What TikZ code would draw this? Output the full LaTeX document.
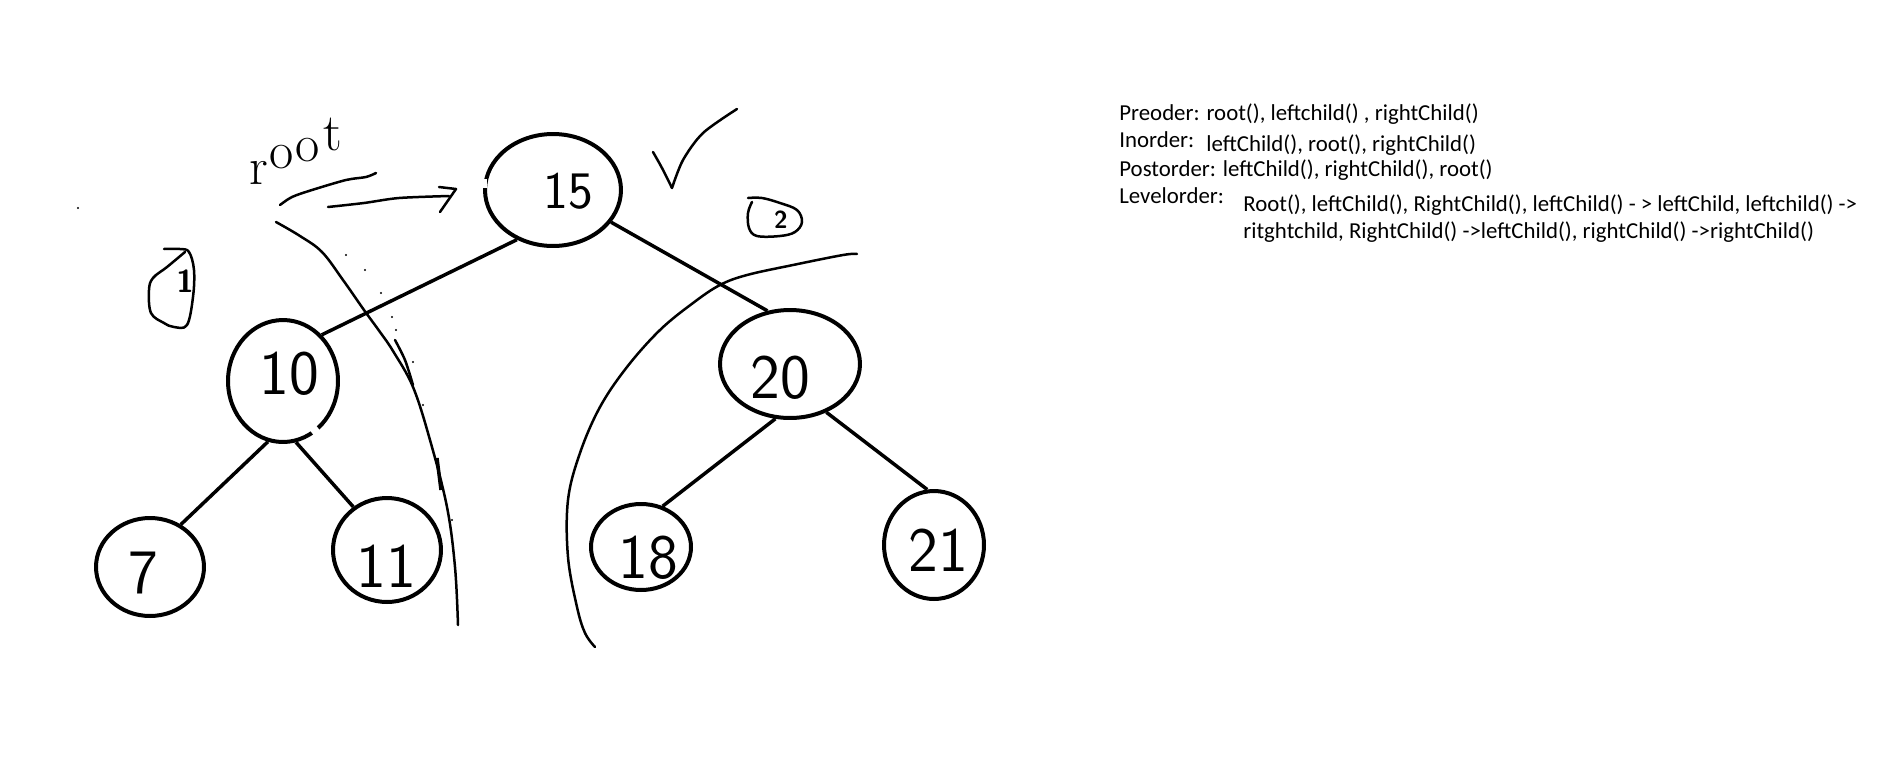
\documentclass[tikz,border=0pt]{standalone}
\usepackage{fontspec}
\newfontfamily\calib{Carlito}
\usetikzlibrary{shapes.geometric}
\begin{document}
\begin{tikzpicture}[x=0.02cm,y=-0.02cm,
  tn/.style={draw, ellipse, line width=0.08cm, inner sep=0pt},
  num/.style={font=\sffamily\fontsize{36}{36}\selectfont, inner sep=0pt},
  edge/.style={line width=0.07cm},
  hand/.style={line width=0.05cm, line cap=round, line join=round},
  txt/.style={font=\calib\fontsize{13}{15}\selectfont, anchor=base west, inner sep=0pt}]
\useasboundingbox (0,0) rectangle (1894,758);
\fill[white] (0,0) rectangle (1894,758);

% tree nodes
\node[tn, minimum width=2.72cm, minimum height=2.24cm] (n15) at (553,190) {};
\node[tn, minimum width=2.20cm, minimum height=2.44cm] (n10) at (283,381) {};
\node[tn, minimum width=2.16cm, minimum height=1.96cm] (n7)  at (150,567) {};
\node[tn, minimum width=2.16cm, minimum height=2.08cm] (n11) at (387,550) {};
\node[tn, minimum width=2.80cm, minimum height=2.16cm] (n20) at (790,364) {};
\node[tn, minimum width=2.00cm, minimum height=1.72cm] (n18) at (641,547) {};
\node[tn, minimum width=2.00cm, minimum height=2.16cm] (n21) at (934,545) {};

% gaps in the hand-drawn circles
\draw[white, line width=0.14cm] (483,179) -- (483,188);
\draw[white, line width=0.12cm] (318,428) -- (312,433);

% edges
\draw[edge] (n15.234) -- (n10.50);
\draw[edge] (n15.331) -- (n20.113);
\draw[edge] (n10.256) -- (n7.54);
\draw[edge] (n10.282) -- (n11.128);
\draw[edge] (n20.255) -- (n18.62);
\draw[edge] (n20.307) -- (n21.97);

% numbers
\node[num, font=\sffamily\fontsize{30}{30}\selectfont] (t15) at (568,191) {15};
\node[num] (t10) at (289,374) {10};
\node[num] (t7)  at (143,573) {7};
\node[num] (t11) at (386,566) {11};
\node[num] (t20) at (780,378) {20};
\node[num] (t18) at (648,558) {18};
\node[num] (t21) at (938,550) {21};

% left dividing curve
\draw[hand] plot[smooth, tension=0.6] coordinates {(276,222) (300,236) (322,252) (343,280) (364,310) (380,332) (393,351) (413,387) (430,440) (447,507) (455,567) (458,625)};
\draw[hand] plot[smooth] coordinates {(395,340) (405,360) (413,385)};
\draw[line width=0.07cm] (437,458) -- (441,490);
\foreach \p in {(346,255),(365,270),(381,293),(392,317),(396,330),(413,362),(423,405),(452,520),(78,208)}
  \fill \p circle (1.2);

% right dividing curve
\draw[hand] plot[smooth, tension=0.6] coordinates {(857,254) (843,255) (793,265) (747,275) (720,285) (693,303) (660,330) (627,367) (600,407) (580,453) (568,500) (568,557) (577,607) (585,633) (595,647)};

% root label and arrow
\node[font=\fontsize{30}{30}\selectfont, anchor=base west, inner sep=0pt] (rootlbl) at (249,184)
  {r\kern1pt\raisebox{9pt}{o}\kern1pt\raisebox{13pt}{o}\kern2pt\raisebox{19pt}{t}};
\draw[hand] plot[smooth] coordinates {(280,205) (292,197) (312,190) (346,180) (366,177) (376,173)};
\coordinate (atip) at (456,189);
\draw[hand] plot[smooth] coordinates {(328,207) (364,203) (399,198) (449,196)};
\draw[hand] (439,187) -- (atip) -- (440,212);

% circled 1
\draw[hand] plot[smooth, tension=0.6] coordinates {(164,249) (180,249) (189,252) (194,270) (193,297) (187,325) (174,327) (164,323) (151,313) (149,290) (153,278) (167,267) (185,252)};
\node[font=\sffamily\bfseries\fontsize{18}{18}\selectfont, inner sep=0pt] (c1) at (185,281) {1};

% circled 2
\draw[hand] plot[smooth, tension=0.6] coordinates {(748,198) (762,198) (780,203) (797,210) (802,222) (795,232) (780,236) (757,236) (749,228) (748,213) (752,202)};
\node[font=\sffamily\bfseries\fontsize{14}{14}\selectfont, inner sep=0pt] (c2) at (781,220) {2};

% check mark
\draw[hand] plot[smooth] coordinates {(653,152) (662,168) (672,188)};
\draw[hand] plot[smooth] coordinates {(672,188) (683,160) (703,133) (737,109)};

% traversal text
\node[txt] (l1) at (1119,120) {Preoder: root(), leftchild() , rightChild()};
\node[txt] (l2a) at (1119,147) {Inorder:};
\node[txt] (l2b) at (1206,151) {leftChild(), root(), rightChild()};
\node[txt] (l3) at (1119,176) {Postorder: leftChild(), rightChild(), root()};
\node[txt] (l4) at (1119,203) {Levelorder:};
\node[txt] (l5) at (1243,211) {Root(), leftChild(), RightChild(), leftChild() - > leftChild, leftchild() ->};
\node[txt] (l6) at (1243,238) {ritghtchild, RightChild() ->leftChild(), rightChild() ->rightChild()};
\end{tikzpicture}
\end{document}
